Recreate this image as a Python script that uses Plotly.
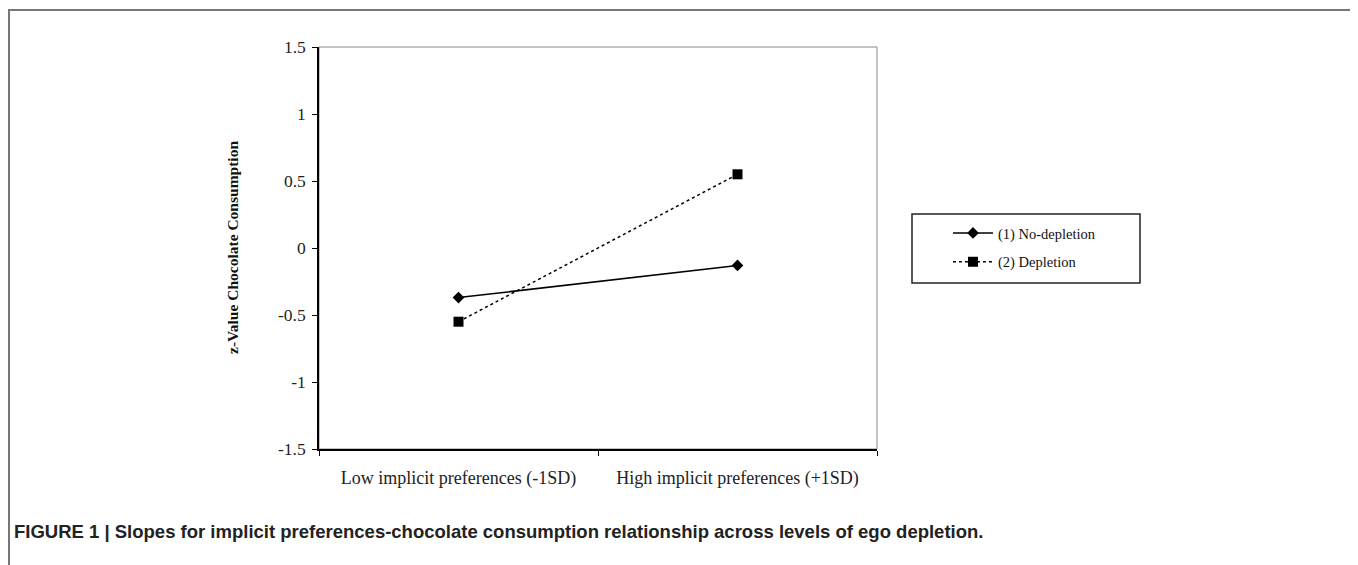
import plotly.graph_objects as go

# ---- data ----
categories = ["Low implicit preferences (-1SD)", "High implicit preferences (+1SD)"]
no_depletion = [-0.37, -0.13]
depletion = [-0.55, 0.55]
y_ticks = [1.5, 1, 0.5, 0, -0.5, -1, -1.5]
y_tick_labels = ["1.5", "1", "0.5", "0", "-0.5", "-1", "-1.5"]
series_names = ["(1) No-depletion", "(2) Depletion"]
y_title = "z-Value Chocolate Consumption"
caption = "FIGURE 1 | Slopes for implicit preferences-chocolate consumption relationship across levels of ego depletion."

OFF = 8  # page body margin in the browser
W, H = 1358 - OFF, 565 - OFF
L, R, T, B = 319, 877, 47, 449  # plot area in window pixels
pw, ph = R - L, B - T

def px(x):
    return (x - L) / pw

def py(y):
    return (B - y) / ph

serif = "Liberation Serif, Times New Roman, serif"
xpos = list(range(len(categories)))

fig = go.Figure()
fig.add_trace(go.Scatter(
    x=xpos, y=no_depletion, name=series_names[0], mode="lines+markers",
    line=dict(color="black", width=1.5),
    marker=dict(symbol="diamond", size=9, color="black"),
    legendgroup="a",
))
fig.add_trace(go.Scatter(
    x=xpos, y=depletion, name=series_names[1], mode="lines+markers",
    line=dict(color="black", width=1.5, dash="dot"),
    marker=dict(symbol="square", size=10, color="black"),
    legendgroup="b",
))

fig.update_layout(
    width=W, height=H,
    margin=dict(l=L - OFF, r=1358 - R, t=T - OFF, b=565 - B, pad=0),
    paper_bgcolor="white", plot_bgcolor="white",
    font=dict(family=serif, color="#222"),
    showlegend=True,
    legend=dict(
        x=px(948), y=py(217), xanchor="left", yanchor="top",
        bgcolor="rgba(0,0,0,0)", borderwidth=0,
        font=dict(family=serif, size=14.5, color="#111"),
        tracegroupgap=7, itemwidth=40,
    ),
    xaxis=dict(
        range=[-0.5, len(categories) - 0.5],
        tickmode="array", tickvals=xpos, ticktext=categories,
        ticks="", showgrid=False, zeroline=False,
        showline=True, linecolor="black", linewidth=1.5,
        tickfont=dict(family=serif, size=18, color="#222"),
        ticklabelstandoff=12,
        minor=dict(tickmode="linear", tick0=-0.5, dtick=1, ticks="outside",
                   ticklen=5, tickcolor="black", tickwidth=1, showgrid=False),
    ),
    yaxis=dict(
        range=[-1.5, 1.5],
        tickmode="array", tickvals=y_ticks, ticktext=y_tick_labels,
        ticks="outside", ticklen=5, tickcolor="black", tickwidth=1,
        showgrid=False, zeroline=False,
        showline=True, linecolor="black", linewidth=1.5,
        tickfont=dict(family=serif, size=17.5, color="#222"),
        ticklabelstandoff=3,
    ),
)

shapes = [
    # plot area border (top/right)
    dict(type="rect", xref="paper", yref="paper", x0=0, y0=0, x1=1, y1=1,
         line=dict(color="#888", width=1), layer="below"),
    # legend box
    dict(type="rect", xref="paper", yref="paper",
         x0=px(912), x1=px(1140), y0=py(283), y1=py(214),
         line=dict(color="#222", width=1.5)),
    # outer frame
    dict(type="rect", xref="paper", yref="paper",
         x0=px(9), x1=px(1355), y0=py(600), y1=py(10),
         line=dict(color="#777", width=2)),
]
fig.update_layout(shapes=shapes)

fig.add_annotation(
    text="<b>" + y_title + "</b>", textangle=-90,
    xref="paper", yref="paper", x=px(232), y=py(248),
    xanchor="center", yanchor="middle", showarrow=False,
    font=dict(family=serif, size=15.5, color="#111"),
)
fig.add_annotation(
    text="<b>" + caption + "</b>",
    xref="paper", yref="paper", x=px(12), y=py(531),
    xanchor="left", yanchor="middle", showarrow=False,
    font=dict(family="Liberation Sans, Arial, sans-serif", size=18.5, color="#222"),
)

fig.write_html("out.html")
